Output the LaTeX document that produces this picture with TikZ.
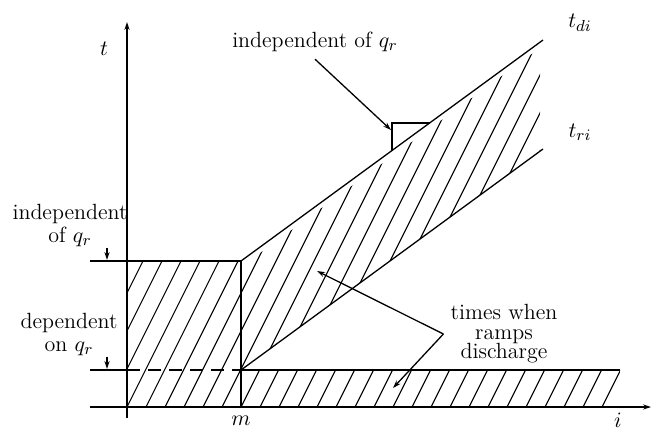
\documentclass[tikz,border=0pt]{standalone}
\usepackage{tikz}
\usetikzlibrary{arrows.meta, positioning, calc}

\begin{document}
\begin{tikzpicture}[x=0.5pt, y=-0.5pt, >={Stealth[length=4pt,width=2.6pt]}, line width=0.65pt,
  lbl/.style={font=\fontsize{11}{11.5}\selectfont, align=center},
  hatch/.style={line width=0.55pt},
  axis/.style={->, line width=0.9pt}]
  \useasboundingbox (0,0) rectangle (652,430);
  % Key points
  \coordinate (O) at (127,407);
  \coordinate (tBot) at (127,418);
  \coordinate (tTop) at (127,22);
  \coordinate (iStart) at (90,407);
  \coordinate (iEnd) at (651,407);
  \coordinate (mTop) at (241,261);
  \coordinate (mMid) at (241,370);
  \coordinate (mBot) at (241,407);
  \coordinate (diEnd) at (543,40);
  \coordinate (riEnd) at (543,149);
  \coordinate (bandEnd) at (620,370);
  % Hatching
  \begin{scope}
    \clip (127,261) -- (mTop) -- (mMid) -- (bandEnd) -- (620,407) -- (O) -- cycle
          (241,267) -- (540,48) -- (540,151) -- (mMid) -- cycle;
    \foreach \k in {-4,...,25}
      \draw[hatch] (127+19*\k,407) -- ++(200,-400);
  \end{scope}
  % Axes
  \draw[axis] (tBot) -- (tTop);
  \draw[axis] (iStart) -- (iEnd);
  % Regions
  \draw (90,261) -- (mTop) -- (mBot);
  \draw (90,370) -- (127,370);
  \draw[dash pattern=on 6.5pt off 4pt] (127,370) -- (mMid);
  \draw (mMid) -- (bandEnd);
  \draw (mTop) -- (diEnd);
  \draw (mMid) -- (riEnd);
  % Marker box on t_di
  \coordinate (boxA) at (392,150.5);
  \coordinate (boxB) at (392,123);
  \coordinate (boxC) at (429.6,123);
  \draw (boxA) -- (boxB) -- (boxC);
  % Labels
  \node[lbl] (tLbl) at (104,49) {$t$};
  \node[lbl] (tdiLbl) at (580,23) {$t_{di}$};
  \node[lbl] (triLbl) at (580,132) {$t_{ri}$};
  \node[lbl] (mLbl) at (241,421) {$m$};
  \node[lbl] (iLbl) at (618,420) {$i$};
  \node[lbl] (indepL) at (70,225) {independent\\of $q_r$};
  \node[lbl] (depL) at (69,334) {dependent\\on $q_r$};
  \node[lbl] (topL) at (315,42) {independent of $q_r$};
  \node[lbl, font=\fontsize{11}{9.8}\selectfont] (timesL) at (504,334) {times when\\ramps\\discharge};
  % Pointers
  \coordinate (indepTip) at (107,260);
  \coordinate (depTip) at (107,369);
  \coordinate (boxTip) at (391,130);
  \coordinate (bandTip) at (317,271);
  \coordinate (lowTip) at (393,388);
  \draw[->] ([yshift=3pt]indepL.south -| indepTip) -- (indepTip);
  \draw[->] ([yshift=3pt]depL.south -| depTip) -- (depTip);
  \draw[->] (topL.south) -- (boxTip);
  \draw[->] (timesL.west) -- (bandTip);
  \draw[->] (timesL.west) -- (lowTip);
\end{tikzpicture}
\end{document}
